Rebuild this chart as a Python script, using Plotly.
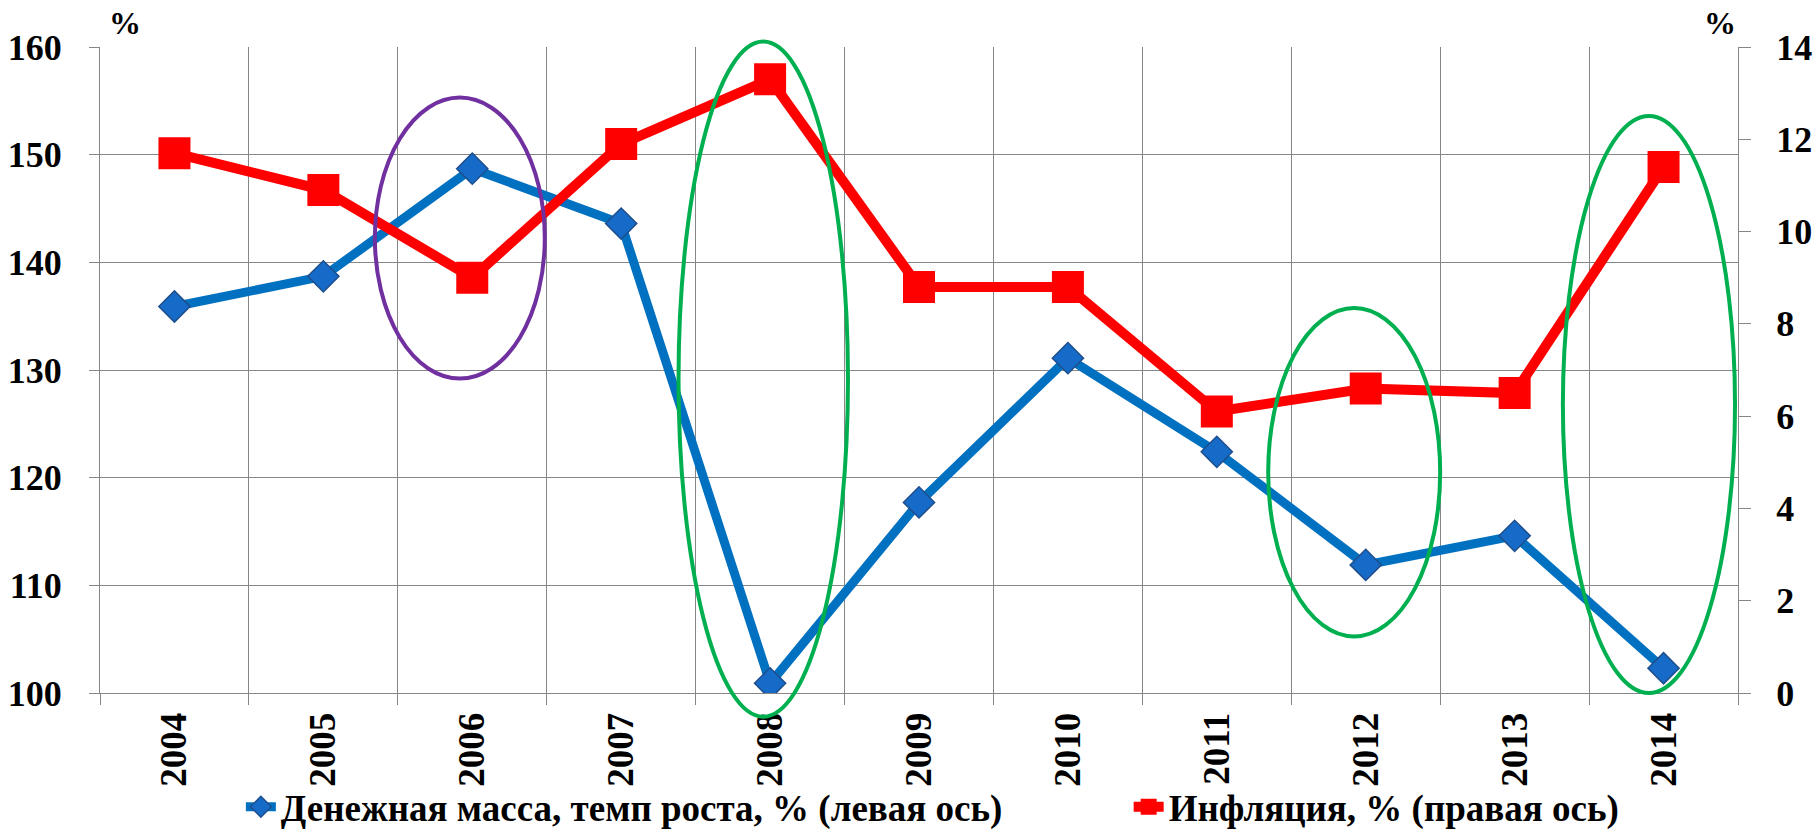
import plotly.graph_objects as go

years = ["2004", "2005", "2006", "2007", "2008", "2009", "2010", "2011", "2012", "2013", "2014"]
money_growth = [135.9, 138.7, 148.7, 143.6, 100.9, 117.7, 131.1, 122.4, 111.9, 114.6, 102.3]
inflation = [11.7, 10.9, 9.0, 11.9, 13.3, 8.8, 8.8, 6.1, 6.6, 6.5, 11.4]
left_ticks = [100, 110, 120, 130, 140, 150, 160]
right_ticks = [0, 2, 4, 6, 8, 10, 12, 14]
name_money = "Денежная масса, темп роста, % (левая ось)"
name_infl = "Инфляция, % (правая ось)"

FONT = "Liberation Serif"
GRID = "#868686"
X_RANGE = [-0.5, 10.5]
Y_RANGE = [100, 160]

fig = go.Figure()
fig.add_trace(go.Scatter(
    x=years, y=money_growth, name=name_money, mode="lines+markers",
    line=dict(color="#0070C0", width=9),
    marker=dict(symbol="diamond", size=24, color="#156BC7", line=dict(color="#1F4E8C", width=1.5)),
    yaxis="y", legend="legend",
))
fig.add_trace(go.Scatter(
    x=years, y=inflation, name=name_infl, mode="lines+markers",
    line=dict(color="#FF0000", width=10),
    marker=dict(symbol="square", size=32, color="#FF0000"),
    yaxis="y2", legend="legend2",
))


def px_(i):
    return (i - X_RANGE[0]) / (X_RANGE[1] - X_RANGE[0])


def py_(v):
    return (v - Y_RANGE[0]) / (Y_RANGE[1] - Y_RANGE[0])


# highlight ellipses (x in category index units, y in left-axis units), not clipped
ellipses = [
    ("#7030A0", 1.346, 2.487, 129.2, 155.3),
    ("#00B050", 3.385, 4.523, 97.8, 160.5),
    ("#00B050", 7.345, 8.5, 105.25, 135.75),
    ("#00B050", 9.324, 10.48, 100.0, 153.6),
]
for col, x0, x1, y0, y1 in ellipses:
    fig.add_shape(type="circle", xref="paper", yref="paper",
                  x0=px_(x0), x1=px_(x1), y0=py_(y0), y1=py_(y1),
                  line=dict(color=col, width=4), layer="above")

fig.add_annotation(text="%", xref="paper", yref="paper", x=0.0045, y=1.0, yanchor="bottom",
                   xanchor="left", showarrow=False, yshift=4,
                   font=dict(family=FONT, size=32, color="black", weight="bold"))
fig.add_annotation(text="%", xref="paper", yref="paper", x=1.0, y=1.0, yanchor="bottom",
                   xanchor="right", showarrow=False, yshift=4,
                   font=dict(family=FONT, size=32, color="black", weight="bold"))

legend_font = dict(family=FONT, size=37, color="black", weight="bold")
fig.update_layout(
    width=1812, height=833,
    margin=dict(l=100, r=74, t=47, b=140, autoexpand=False),
    plot_bgcolor="white", paper_bgcolor="white",
    showlegend=True,
    legend=dict(orientation="h", x=0.086, xanchor="left", yref="container", y=0.031,
                yanchor="middle", font=legend_font, bgcolor="rgba(0,0,0,0)"),
    legend2=dict(orientation="h", x=0.628, xanchor="left", yref="container", y=0.031,
                 yanchor="middle", font=legend_font, bgcolor="rgba(0,0,0,0)"),
    xaxis=dict(
        type="category", categoryorder="array", categoryarray=years,
        range=X_RANGE, tickson="boundaries",
        showgrid=True, gridcolor=GRID, gridwidth=1,
        showline=True, linecolor=GRID, linewidth=1,
        ticks="outside", ticklen=11, tickcolor=GRID,
        tickangle=-90, ticklabelstandoff=4,
        tickfont=dict(family=FONT, size=37, color="black", weight="bold"),
        zeroline=False,
    ),
    yaxis=dict(
        range=Y_RANGE, tickvals=left_ticks,
        showgrid=True, gridcolor=GRID, gridwidth=1,
        showline=True, linecolor=GRID, linewidth=1,
        ticks="outside", ticklen=10, tickcolor=GRID,
        ticklabelstandoff=20,
        tickfont=dict(family=FONT, size=36, color="black", weight="bold"),
        zeroline=False,
    ),
    yaxis2=dict(
        range=[0, 14], tickvals=right_ticks, overlaying="y", side="right",
        showgrid=False,
        showline=True, linecolor=GRID, linewidth=1,
        ticks="outside", ticklen=12, tickcolor=GRID,
        ticklabelstandoff=18,
        tickfont=dict(family=FONT, size=36, color="black", weight="bold"),
        zeroline=False,
    ),
)

fig.write_html(
    "out.html",
    config={"displayModeBar": False},
    post_script="document.body.style.margin='0';document.body.style.overflow='hidden';",
)
